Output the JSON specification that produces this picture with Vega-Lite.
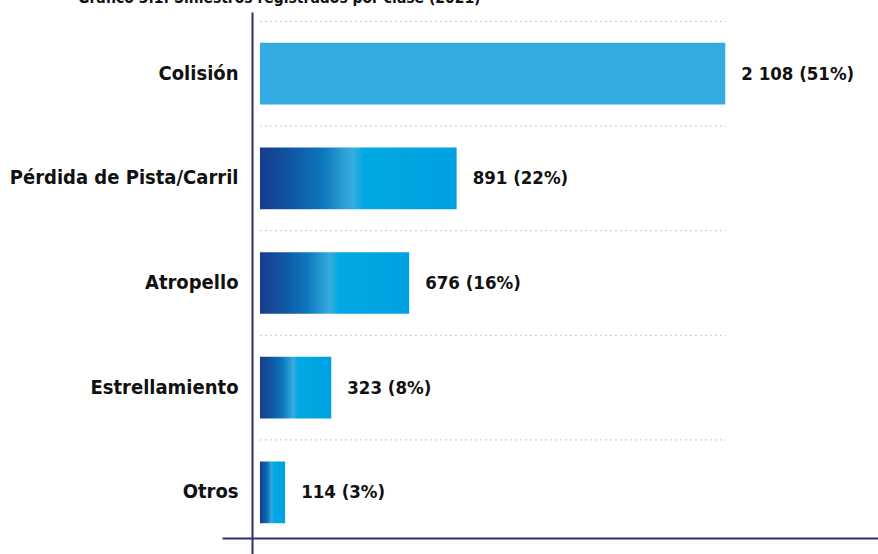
{
  "$schema": "https://vega.github.io/schema/vega-lite/v6.json",
  "autosize": {"type": "none"},
  "width": 656,
  "height": 542,
  "padding": {"left": 222, "top": 12, "right": 0, "bottom": 0},
  "background": "white",
  "config": {"view": {"stroke": null}, "font": "DejaVu Sans Condensed"},
  "title": {
    "text": "Gráfico 3.1: Siniestros registrados por clase (2021)",
    "anchor": "start",
    "frame": "group",
    "dx": -144,
    "offset": 6,
    "font": "DejaVu Sans Condensed",
    "fontSize": 15.5,
    "fontWeight": "bold",
    "color": "#111111"
  },
  "data": {
    "values": [
      {"cat": "Colisión", "value": 2108, "label": "2 108 (51%)", "kind": "flat"},
      {"cat": "Pérdida de Pista/Carril", "value": 891, "label": "891 (22%)", "kind": "grad"},
      {"cat": "Atropello", "value": 676, "label": "676 (16%)", "kind": "grad"},
      {"cat": "Estrellamiento", "value": 323, "label": "323 (8%)", "kind": "grad"},
      {"cat": "Otros", "value": 114, "label": "114 (3%)", "kind": "grad"}
    ]
  },
  "encoding": {
    "y": {
      "field": "cat",
      "type": "nominal",
      "sort": null,
      "scale": {"paddingInner": 0, "paddingOuter": 0.09},
      "axis": {
        "orient": "left",
        "offset": -30,
        "title": null,
        "domain": true,
        "domainColor": "#2e3070",
        "domainWidth": 2,
        "ticks": false,
        "grid": false,
        "labelPadding": 14,
        "labelLimit": 0,
        "labelFont": "DejaVu Sans Condensed",
        "labelFontSize": 20,
        "labelFontWeight": "bold",
        "labelColor": "#111111"
      }
    }
  },
  "layer": [
    {
      "mark": {"type": "rule", "color": "#c4c4c4", "strokeDash": [2, 3], "strokeWidth": 1},
      "encoding": {
        "x": {
          "datum": 0,
          "type": "quantitative",
          "scale": {"domain": [-172, 2800], "nice": false, "zero": false},
          "axis": {
            "orient": "bottom",
            "offset": -16,
            "title": null,
            "labels": false,
            "ticks": false,
            "grid": false,
            "domainColor": "#2e3070",
            "domainWidth": 2
          }
        },
        "x2": {"datum": 2111},
        "y": {"field": "cat", "type": "nominal", "sort": null, "bandPosition": 0}
      }
    },
    {
      "transform": [{"filter": "datum.kind === 'flat'"}],
      "mark": {"type": "bar", "color": "#34abe1", "height": {"band": 0.59}},
      "encoding": {
        "x": {"field": "value", "type": "quantitative"},
        "x2": {"datum": 0}
      }
    },
    {
      "transform": [{"filter": "datum.kind === 'grad'"}],
      "mark": {
        "type": "bar",
        "height": {"band": 0.59},
        "color": {
          "gradient": "linear",
          "x1": 0, "y1": 0, "x2": 1, "y2": 0,
          "stops": [
            {"offset": 0, "color": "#183c8c"},
            {"offset": 0.18, "color": "#0f5aa6"},
            {"offset": 0.32, "color": "#0d78bd"},
            {"offset": 0.44, "color": "#2fa3d9"},
            {"offset": 0.47, "color": "#38acdf"},
            {"offset": 0.53, "color": "#00a9e4"},
            {"offset": 1, "color": "#00a1e0"}
          ]
        }
      },
      "encoding": {
        "x": {"field": "value", "type": "quantitative"},
        "x2": {"datum": 0}
      }
    },
    {
      "mark": {
        "type": "text",
        "align": "left",
        "baseline": "middle",
        "dx": 16,
        "font": "DejaVu Sans Condensed",
        "fontSize": 18.5,
        "fontWeight": "bold",
        "color": "#111111"
      },
      "encoding": {
        "x": {"field": "value", "type": "quantitative"},
        "text": {"field": "label"}
      }
    }
  ]
}
